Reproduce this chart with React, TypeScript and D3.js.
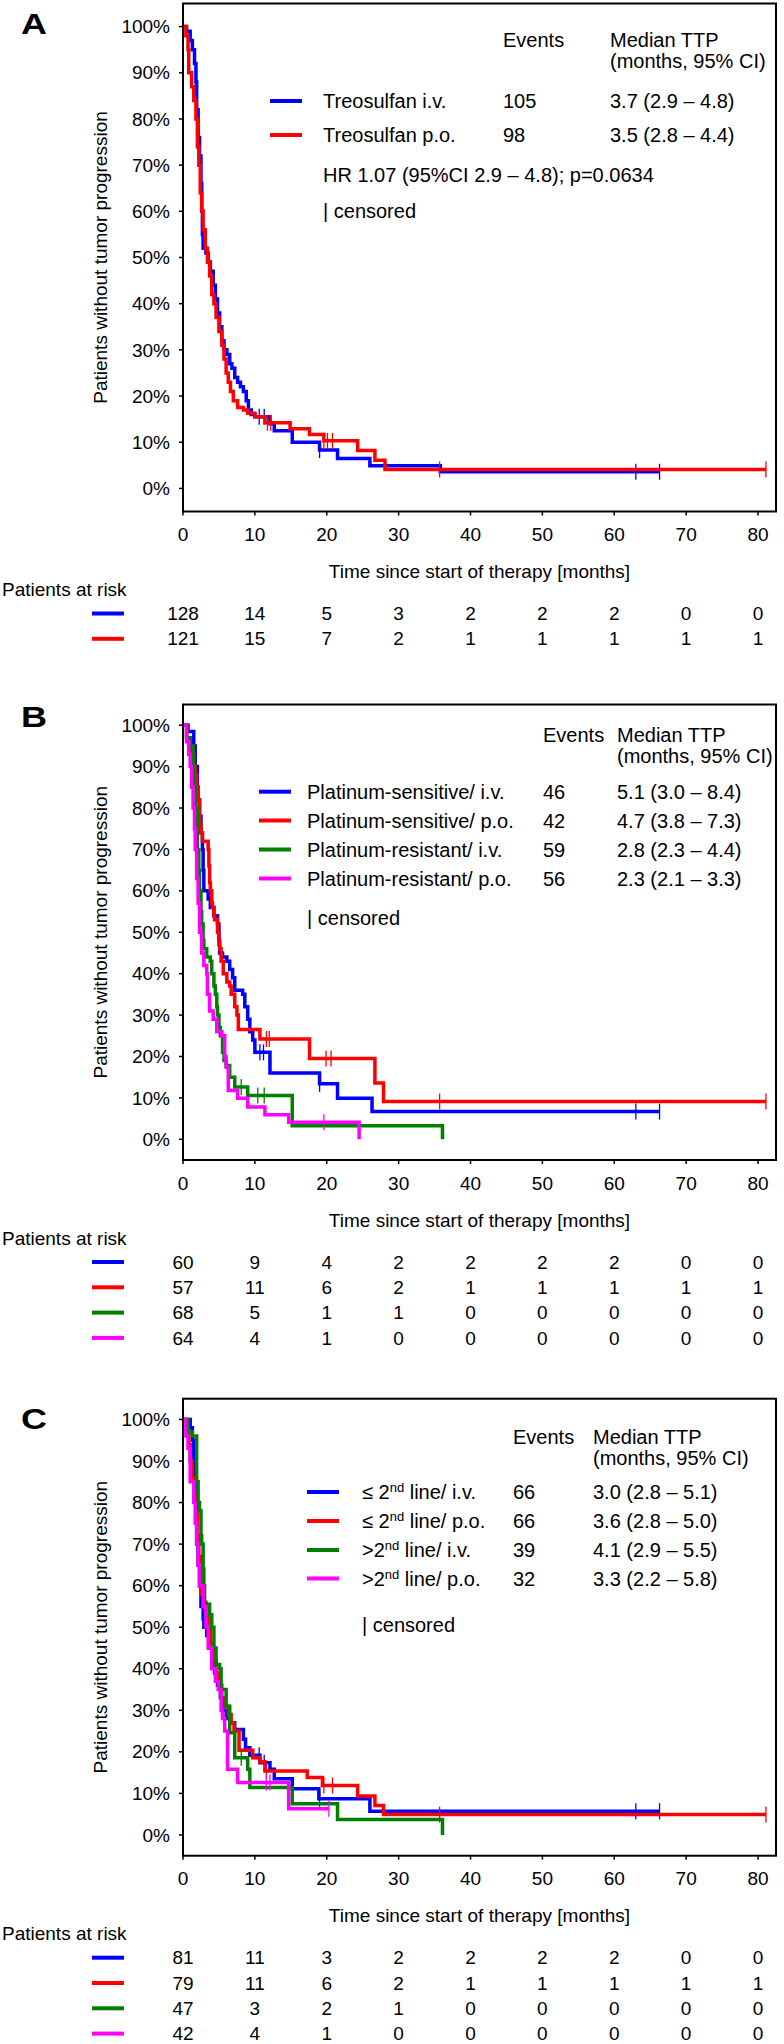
import React from "react";
import * as d3 from "d3";

type Pt = [number, number];

// ---------- shared ----------
const xTicks = [0, 10, 20, 30, 40, 50, 60, 70, 80];
const yTicks = [0, 10, 20, 30, 40, 50, 60, 70, 80, 90, 100];
const BLUE = "#0000ff";
const RED = "#ff0000";
const GREEN = "#007f00";
const MAGENTA = "#ff00ff";

// ---------- Panel A ----------
const aIvSteps: Pt[] = [[0,100],[0.5,99],[1.0,97],[1.3,95],[1.6,92],[1.8,88],[1.9,82],[2.1,76],[2.3,72],[2.5,66],[2.6,60],[2.7,55],[2.8,52],[3.2,51],[3.5,49],[3.8,47],[4.2,44],[4.5,41],[4.8,38],[5.1,35],[5.4,32],[5.7,30],[6.1,29],[6.5,27],[6.8,26],[7.2,24],[7.6,23],[8.0,22],[8.4,21],[8.8,19],[9.1,17],[9.5,16],[10.0,15.5],[12.1,14],[12.7,12.5],[15.2,10],[19.0,8.3],[21.5,6.5],[26.0,4.9],[35.8,3.6]];
const aIvEnd = 66.3;
const aIvCensor = [10.6, 11.3, 19.0, 63.0, 66.3];
const aPoSteps: Pt[] = [[0,100],[0.4,98],[0.7,95],[0.8,90],[1.2,87],[1.5,84],[1.8,80],[2.0,74],[2.2,70],[2.4,64],[2.6,60],[2.8,56],[3.1,52],[3.4,49],[3.7,46],[4.0,42],[4.3,40],[4.6,37],[5.0,34],[5.4,31],[5.7,28],[6.0,25],[6.3,23],[6.6,21],[7.0,19],[7.6,17.5],[8.4,17],[9.0,16.3],[10.0,15.5],[11.4,14.2],[14.9,12.9],[17.6,11.7],[19.6,10.3],[24.3,8.2],[26.7,6.1],[28.1,4.1]];
const aPoEnd = 81.1;
const aPoCensor = [11.75, 12.2, 19.6, 20.1, 20.8, 35.7, 81.1];
const aNames = ["Treosulfan i.v.", "Treosulfan p.o."];
const aEvents = ["105", "98"];
const aMedians = ["3.7 (2.9 \u2013 4.8)", "3.5 (2.8 \u2013 4.4)"];
const aHR = "HR 1.07 (95%CI 2.9 \u2013 4.8); p=0.0634";
const aRiskIv = [128, 14, 5, 3, 2, 2, 2, 0, 0];
const aRiskPo = [121, 15, 7, 2, 1, 1, 1, 1, 1];

// ---------- Panel B ----------
const bSensIvSteps: Pt[] = [[0,100],[0.7,98.5],[1.5,95],[1.7,90],[2.0,85],[2.1,82],[2.3,78],[2.5,74],[2.7,70],[2.8,65],[2.9,60],[3.5,58],[3.8,56],[4.3,54],[4.8,52],[5.0,48],[5.1,45],[5.5,44],[6.1,43],[6.5,41],[6.9,39],[7.2,36],[8.3,35],[8.6,32],[9.0,29],[9.3,26],[9.7,24],[10.0,21],[12.1,16],[19.0,13.4],[21.5,9.9],[26.3,6.7]];
const bSensIvEnd = 66.3;
const bSensIvCensor = [10.7, 11.2, 19.0, 63.0, 66.3];
const bSensPoSteps: Pt[] = [[0,100],[0.5,97],[1.0,95],[1.2,93],[1.5,90],[1.7,88],[1.9,85],[2.1,82],[2.3,76],[2.5,74],[2.7,72],[3.5,70],[3.6,66],[3.7,62],[3.8,60],[4.0,57],[4.1,56],[4.3,54],[4.4,53],[4.8,50],[5.0,47],[5.1,46],[5.3,43],[5.6,40],[6.1,38],[6.5,37],[6.7,35],[7.2,32],[7.5,30],[7.7,26.5],[10.7,24.2],[17.6,19.5],[26.7,13.6],[27.9,9.1]];
const bSensPoEnd = 81.1;
const bSensPoCensor = [11.6, 12.0, 19.9, 20.6, 35.7, 81.1];
const bResIvSteps: Pt[] = [[0,100],[0.5,97],[1.0,95],[1.4,90],[1.6,85],[1.8,80],[2.0,70],[2.2,65],[2.3,60],[2.5,55],[2.6,52],[2.8,48],[2.9,46],[3.3,44],[3.8,43],[4.0,40],[4.3,37],[4.5,35],[4.7,32],[4.8,30],[5.0,27],[5.2,25],[5.5,21],[5.7,19],[6.0,17.8],[6.5,15],[7.2,12.6],[9.0,10.6],[15.2,3.3],[36.1,0]];
const bResIvEnd = 36.1;
const bResIvCensor = [8.1, 10.4, 11.3];
const bResPoSteps: Pt[] = [[0,100],[0.5,96],[0.8,93],[1.0,90],[1.2,85],[1.4,80],[1.6,75],[1.7,70],[1.9,63],[2.1,57],[2.3,50],[2.6,45],[2.9,42],[3.3,40],[3.4,35],[3.7,31],[4.2,29],[4.7,26],[5.4,25],[5.8,20],[6.0,17.4],[6.3,11.8],[7.6,9.9],[9.0,7.8],[11.4,5.9],[14.7,4.1],[24.5,0]];
const bResPoEnd = 24.5;
const bResPoCensor = [19.6];
const bNames = ["Platinum-sensitive/ i.v.", "Platinum-sensitive/ p.o.", "Platinum-resistant/ i.v.", "Platinum-resistant/ p.o."];
const bEvents = ["46", "42", "59", "56"];
const bMedians = ["5.1 (3.0 \u2013 8.4)", "4.7 (3.8 \u2013 7.3)", "2.8 (2.3 \u2013 4.4)", "2.3 (2.1 \u2013 3.3)"];
const bRisk1 = [60, 9, 4, 2, 2, 2, 2, 0, 0];
const bRisk2 = [57, 11, 6, 2, 1, 1, 1, 1, 1];
const bRisk3 = [68, 5, 1, 1, 0, 0, 0, 0, 0];
const bRisk4 = [64, 4, 1, 0, 0, 0, 0, 0, 0];

// ---------- Panel C ----------
const cLowIvSteps: Pt[] = [[0,100],[1.0,98],[1.3,95],[1.5,90],[1.7,85],[1.8,80],[1.9,70],[2.1,65],[2.3,60],[2.5,55],[2.8,52],[2.9,50],[3.3,48],[3.6,45],[4.0,42],[4.4,39],[4.8,36],[5.2,33],[5.6,30],[6.0,28],[6.5,27],[7.2,25.4],[8.4,23],[8.7,21],[9.3,19.2],[10.7,17.4],[12.1,15.8],[12.7,13.5],[15.2,11.1],[18.9,8.7],[26.0,5.7]];
const cLowIvEnd = 66.3;
const cLowIvCensor = [10.6, 11.3, 19.0, 63.0, 66.3];
const cLowPoSteps: Pt[] = [[0,100],[0.5,97],[0.8,94],[1.0,90],[1.3,86],[1.6,82],[1.8,78],[2.0,72],[2.2,67],[2.4,62],[2.6,58],[2.9,56],[3.2,53],[3.5,50],[3.8,46],[4.2,42],[4.6,39],[5.0,36],[5.4,33],[5.8,31],[6.3,29],[6.7,27],[7.1,25],[7.8,20.4],[9.7,18.6],[10.7,17.6],[11.4,15.4],[17.3,13.8],[19.4,11.9],[24.3,9.4],[26.7,7.1],[27.9,4.9]];
const cLowPoEnd = 81.1;
const cLowPoCensor = [11.6, 19.6, 20.8, 35.7, 81.1];
const cHighIvSteps: Pt[] = [[0,100],[0.7,97],[1.3,96],[1.9,85],[2.1,80],[2.3,78],[2.5,72],[2.6,70],[2.8,64],[2.9,60],[3.0,55.5],[3.7,53],[4.0,50],[4.3,45],[4.6,41],[5.1,40],[5.3,35],[6.0,31],[6.5,24.6],[7.2,18.6],[9.0,15.8],[9.3,11.4],[15.2,7.5],[21.5,3.7],[36.1,0]];
const cHighIvEnd = 36.1;
const cHighIvCensor = [8.1];
const cHighPoSteps: Pt[] = [[0,100],[0.4,96],[0.7,93],[1.0,85],[1.5,80],[1.7,75],[1.9,70],[2.1,65],[2.3,60],[2.8,55],[3.2,50],[3.5,45],[4.0,40],[4.5,37],[4.9,35],[5.3,30],[5.5,28],[5.8,25],[6.2,15.8],[7.6,12.6],[14.7,6.3]];
const cHighPoEnd = 20.3;
const cHighPoCensor = [11.6, 12.1, 20.3];
const cPrefix = ["\u2264 2", "\u2264 2", ">2", ">2"];
const cSuffix = [" line/ i.v.", " line/ p.o.", " line/ i.v.", " line/ p.o."];
const cEvents = ["66", "66", "39", "32"];
const cMedians = ["3.0 (2.8 \u2013 5.1)", "3.6 (2.8 \u2013 5.0)", "4.1 (2.9 \u2013 5.5)", "3.3 (2.2 \u2013 5.8)"];
const cRisk1 = [81, 11, 3, 2, 2, 2, 2, 0, 0];
const cRisk2 = [79, 11, 6, 2, 1, 1, 1, 1, 1];
const cRisk3 = [47, 3, 2, 1, 0, 0, 0, 0, 0];
const cRisk4 = [42, 4, 1, 0, 0, 0, 0, 0, 0];

const FONT = "'Liberation Sans', Arial, Helvetica, sans-serif";
const FS = 19;
const LFS = 20;

const x = d3.scaleLinear().domain([0, 82.5]).range([183, 776]);

interface Series { steps: Pt[]; end: number; censor: number[]; color: string; }
interface LegendRow { label: React.ReactNode; events: string; median: string; color: string; }
interface PanelCfg {
  letter: string; letterY: number; top: number; bottom: number;
  series: Series[]; legend: LegendRow[]; risk: { vals: number[]; color: string }[];
  swX: number; textX: number; evX: number; medX: number; headY: number; rowYs: number[];
  extra: { text: string; y: number }[];
}

function valueAt(steps: Pt[], t: number) {
  let v = steps[0][1];
  for (const s of steps) { if (s[0] <= t + 1e-9) v = s[1]; }
  return v;
}

function Panel({ cfg }: { cfg: PanelCfg }) {
  const y = d3.scaleLinear().domain([-5, 105]).range([cfg.bottom, cfg.top]);
  const line = d3.line<Pt>().x(d => x(d[0])).y(d => y(d[1])).curve(d3.curveStepAfter);
  const [x0, x1] = x.range();
  const midY = (cfg.top + cfg.bottom) / 2;
  return (
    <g>
      <text x={21} y={cfg.letterY} fontSize={29} fontWeight="bold" fontFamily={FONT} textLength={26} lengthAdjust="spacingAndGlyphs">{cfg.letter}</text>
      <g>
        {cfg.series.map((s, i) => {
          const pts: Pt[] = [...s.steps];
          const last = pts[pts.length - 1];
          if (s.end > last[0]) pts.push([s.end, last[1]]);
          return (
            <g key={i}>
              <path d={line(pts) || ""} fill="none" stroke={s.color} strokeWidth={3.5} />
              {s.censor.map((c, j) => {
                const v = valueAt(s.steps, c);
                return <line key={j} x1={x(c)} x2={x(c)} y1={y(v) - 8} y2={y(v) + 8} stroke={s.color} strokeWidth={1.3} />;
              })}
            </g>
          );
        })}
      </g>
      <rect x={x0} y={cfg.top} width={x1 - x0} height={cfg.bottom - cfg.top} fill="none" stroke="#000" strokeWidth={2} />
      {yTicks.map(t => (
        <g key={t}>
          <line x1={x0 - 4} x2={x0} y1={y(t)} y2={y(t)} stroke="#000" strokeWidth={1.5} />
          <text x={x0 - 13} y={y(t)} dy="0.35em" textAnchor="end" fontSize={FS} fontFamily={FONT}>{t}%</text>
        </g>
      ))}
      {xTicks.map(t => (
        <g key={t}>
          <line x1={x(t)} x2={x(t)} y1={cfg.bottom} y2={cfg.bottom + 4} stroke="#000" strokeWidth={1.5} />
          <text x={x(t)} y={cfg.bottom + 23} dy="0.35em" textAnchor="middle" fontSize={FS} fontFamily={FONT}>{t}</text>
        </g>
      ))}
      <text transform={`translate(100,${midY}) rotate(-90)`} dy="0.35em" textAnchor="middle" fontSize={FS} fontFamily={FONT}>Patients without tumor progression</text>
      <text x={(x0 + x1) / 2} y={cfg.bottom + 60} dy="0.35em" textAnchor="middle" fontSize={FS} fontFamily={FONT}>Time since start of therapy [months]</text>
      <text x={cfg.evX} y={cfg.headY} dy="0.35em" fontSize={LFS} fontFamily={FONT}>Events</text>
      <text x={cfg.medX} y={cfg.headY} dy="0.35em" fontSize={LFS} fontFamily={FONT}>Median TTP</text>
      <text x={cfg.medX} y={cfg.headY + 21} dy="0.35em" fontSize={LFS} fontFamily={FONT}>(months, 95% CI)</text>
      {cfg.legend.map((r, i) => (
        <g key={i}>
          <line x1={cfg.swX} x2={cfg.swX + 32} y1={cfg.rowYs[i]} y2={cfg.rowYs[i]} stroke={r.color} strokeWidth={4} />
          <text x={cfg.textX} y={cfg.rowYs[i]} dy="0.35em" fontSize={LFS} fontFamily={FONT}>{r.label}</text>
          <text x={cfg.evX} y={cfg.rowYs[i]} dy="0.35em" fontSize={LFS} fontFamily={FONT}>{r.events}</text>
          <text x={cfg.medX} y={cfg.rowYs[i]} dy="0.35em" fontSize={LFS} fontFamily={FONT}>{r.median}</text>
        </g>
      ))}
      {cfg.extra.map((e, i) => (
        <text key={i} x={cfg.textX} y={e.y} dy="0.35em" fontSize={LFS} fontFamily={FONT}>{e.text}</text>
      ))}
      <text x={2} y={cfg.bottom + 78} dy="0.35em" fontSize={FS} fontFamily={FONT}>Patients at risk</text>
      {cfg.risk.map((r, i) => {
        const ry = cfg.bottom + 102 + i * 25.3;
        return (
          <g key={i}>
            <line x1={92} x2={124} y1={ry} y2={ry} stroke={r.color} strokeWidth={4} />
            {r.vals.map((v, j) => (
              <text key={j} x={x(xTicks[j])} y={ry} dy="0.35em" textAnchor="middle" fontSize={FS} fontFamily={FONT}>{v}</text>
            ))}
          </g>
        );
      })}
    </g>
  );
}

function sup(prefix: string, suffix: string) {
  return (
    <>
      {prefix}
      <tspan dy={-7} fontSize={13}>nd</tspan>
      <tspan dy={7}>{suffix}</tspan>
    </>
  );
}

const panelA: PanelCfg = {
  letter: "A", letterY: 34, top: 3.5, bottom: 511.5,
  series: [
    { steps: aIvSteps, end: aIvEnd, censor: aIvCensor, color: BLUE },
    { steps: aPoSteps, end: aPoEnd, censor: aPoCensor, color: RED },
  ],
  legend: aNames.map((n, i) => ({ label: n, events: aEvents[i], median: aMedians[i], color: [BLUE, RED][i] })),
  risk: [{ vals: aRiskIv, color: BLUE }, { vals: aRiskPo, color: RED }],
  swX: 270, textX: 323, evX: 503, medX: 610, headY: 40, rowYs: [101, 135],
  extra: [{ text: aHR, y: 175 }, { text: "| censored", y: 211 }],
};

const panelB: PanelCfg = {
  letter: "B", letterY: 727, top: 704.5, bottom: 1160,
  series: [
    { steps: bSensIvSteps, end: bSensIvEnd, censor: bSensIvCensor, color: BLUE },
    { steps: bSensPoSteps, end: bSensPoEnd, censor: bSensPoCensor, color: RED },
    { steps: bResIvSteps, end: bResIvEnd, censor: bResIvCensor, color: GREEN },
    { steps: bResPoSteps, end: bResPoEnd, censor: bResPoCensor, color: MAGENTA },
  ],
  legend: bNames.map((n, i) => ({ label: n, events: bEvents[i], median: bMedians[i], color: [BLUE, RED, GREEN, MAGENTA][i] })),
  risk: [{ vals: bRisk1, color: BLUE }, { vals: bRisk2, color: RED }, { vals: bRisk3, color: GREEN }, { vals: bRisk4, color: MAGENTA }],
  swX: 259, textX: 307, evX: 543, medX: 617, headY: 735, rowYs: [791.7, 820.5, 849.5, 878.5],
  extra: [{ text: "| censored", y: 918 }],
};

const panelC: PanelCfg = {
  letter: "C", letterY: 1429, top: 1398.7, bottom: 1855.7,
  series: [
    { steps: cLowIvSteps, end: cLowIvEnd, censor: cLowIvCensor, color: BLUE },
    { steps: cLowPoSteps, end: cLowPoEnd, censor: cLowPoCensor, color: RED },
    { steps: cHighIvSteps, end: cHighIvEnd, censor: cHighIvCensor, color: GREEN },
    { steps: cHighPoSteps, end: cHighPoEnd, censor: cHighPoCensor, color: MAGENTA },
  ],
  legend: cPrefix.map((p, i) => ({ label: sup(p, cSuffix[i]), events: cEvents[i], median: cMedians[i], color: [BLUE, RED, GREEN, MAGENTA][i] })),
  risk: [{ vals: cRisk1, color: BLUE }, { vals: cRisk2, color: RED }, { vals: cRisk3, color: GREEN }, { vals: cRisk4, color: MAGENTA }],
  swX: 307, textX: 362, evX: 513, medX: 593, headY: 1437, rowYs: [1492, 1521, 1550, 1578.5],
  extra: [{ text: "| censored", y: 1625 }],
};

export default function App() {
  return (
    <svg width={784} height={2044} viewBox="0 0 784 2044" style={{ position: "absolute", left: 0, top: 0, background: "#fff" }}>
      <rect x={0} y={0} width={784} height={2044} fill="#fff" />
      <Panel cfg={panelA} />
      <Panel cfg={panelB} />
      <Panel cfg={panelC} />
    </svg>
  );
}
